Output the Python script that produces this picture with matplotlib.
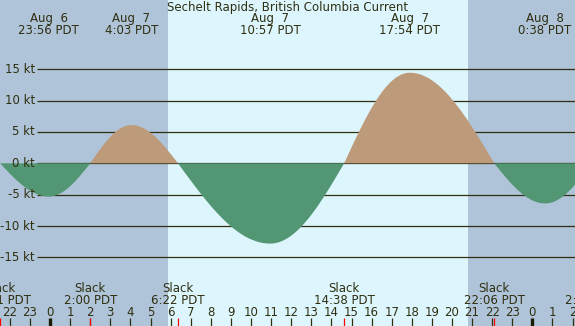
"""
Tidal current chart for Sechelt Rapids, British Columbia
"""

import numpy as np
import matplotlib
matplotlib.use('Agg')
import matplotlib.pyplot as plt
from matplotlib.transforms import blended_transform_factory

# Current events: hours relative to Aug 7 00:00 PDT, speed in knots
event_hours = [-2.483, -0.067, 2.0, 4.05, 6.367, 10.95, 14.633, 17.9, 22.1, 24.633, 26.95]
event_knots = [0.0, -5.3, 0.0, 6.1, 0.0, -12.8, 0.0, 14.45, 0.0, -6.4, 0.0]

# Max current labels (top of chart)
max_hours = [-0.067, 4.05, 10.95, 17.9, 24.633]
max_dates = ['Aug  6', 'Aug  7', 'Aug  7', 'Aug  7', 'Aug  8']
max_times = ['23:56 PDT', '4:03 PDT', '10:57 PDT', '17:54 PDT', '0:38 PDT']

# Slack labels (bottom of chart)
slack_hours = [-2.483, 2.0, 6.367, 14.633, 22.1, 26.95]
slack_times = ['21:31 PDT', '2:00 PDT', '6:22 PDT', '14:38 PDT', '22:06 PDT', '2:57 PDT']

# Sunrise / sunset (night shading)
sunrise = 5.86
sunset = 20.78

y_ticks = [15, 10, 5, 0, -5, -10, -15]
hour_ticks = list(range(-2, 27))

title = 'Sechelt Rapids, British Columbia Current'

# Colours
day_col = '#ddf6fe'
night_col = '#b0c4d9'
flood_col = '#bd9a7a'
ebb_col = '#529673'
ink = '#2f2f10'

W, H = 575, 326
x_lim = (-2.49, 26.12)
y_lim = (-25.95, 26.05)


def current_curve(t):
    """Quarter-wave sine/cosine between slack and max events"""
    v = np.zeros_like(t)
    for i in range(len(event_hours) - 1):
        t0, t1 = event_hours[i], event_hours[i + 1]
        m = (t >= t0) & (t <= t1)
        f = (t[m] - t0) / (t1 - t0)
        if event_knots[i] == 0:
            v[m] = event_knots[i + 1] * np.sin(np.pi / 2 * f)
        else:
            v[m] = event_knots[i] * np.cos(np.pi / 2 * f)
    return v


def yfrac(ypix):
    # Pixel row (from top) to axes fraction
    return 1 - ypix / H


plt.rcParams['font.family'] = ['DejaVu Sans']
fig = plt.figure(figsize=(W / 100, H / 100), dpi=100)
ax = fig.add_axes([0, 0, 1, 1])
ax.set_xlim(*x_lim)
ax.set_ylim(*y_lim)
ax.axis('off')
ax.set_facecolor(day_col)
fig.patch.set_facecolor(day_col)

# Background day / night
ax.axvspan(x_lim[0], x_lim[1], color=day_col, zorder=0)
ax.axvspan(x_lim[0], sunrise, color=night_col, zorder=1, lw=0)
ax.axvspan(sunset, x_lim[1], color=night_col, zorder=1, lw=0)

# Grid lines and labels
trans_y = blended_transform_factory(ax.transAxes, ax.transData)
for k in y_ticks:
    ax.hlines(k, 37 / W, 1, transform=trans_y, color=ink, lw=0.9, zorder=2)
    ax.text(35 / W, k, f'{k} kt', transform=trans_y, ha='right', va='center',
            fontsize=8.5, color=ink, zorder=5)

# Current curve
t = np.linspace(x_lim[0], x_lim[1], 3000)
v = current_curve(t)
ax.fill_between(t, 0, v, where=v >= 0, interpolate=True, color=flood_col, lw=0, zorder=3)
ax.fill_between(t, 0, v, where=v <= 0, interpolate=True, color=ebb_col, lw=0, zorder=3)

trans_x = blended_transform_factory(ax.transData, ax.transAxes)

# Title and max labels
ax.text(0.5, yfrac(7), title, transform=ax.transAxes, ha='center', va='center',
        fontsize=8.5, color=ink, zorder=5)
for h, d, tm in zip(max_hours, max_dates, max_times):
    ax.text(h, yfrac(18.5), d, transform=trans_x, ha='center', va='center',
            fontsize=8.5, color=ink, zorder=5)
    ax.text(h, yfrac(31), tm, transform=trans_x, ha='center', va='center',
            fontsize=8.5, color=ink, zorder=5)

# Slack labels
for h, tm in zip(slack_hours, slack_times):
    ax.text(h, yfrac(288), 'Slack', transform=trans_x, ha='center', va='center',
            fontsize=8.5, color=ink, zorder=5, clip_on=False)
    ax.text(h, yfrac(300), tm, transform=trans_x, ha='center', va='center',
            fontsize=8.5, color=ink, zorder=5, clip_on=False)

# Hour ticks
for h in hour_ticks:
    ax.text(h, yfrac(312), str(h % 24), transform=trans_x, ha='center', va='center',
            fontsize=8.5, color=ink, zorder=5)
    if h % 24 == 0:
        ax.vlines(h, 0, yfrac(318), transform=trans_x, color='#1a1a00', lw=2.4, zorder=4)
    else:
        ax.vlines(h, 0, yfrac(318), transform=trans_x, color=ink, lw=0.9, zorder=4)
for h in slack_hours:
    ax.vlines(h, 0, yfrac(318), transform=trans_x, color='red', lw=0.9, zorder=4)

fig.savefig('out.png', dpi=100, facecolor=fig.get_facecolor())
